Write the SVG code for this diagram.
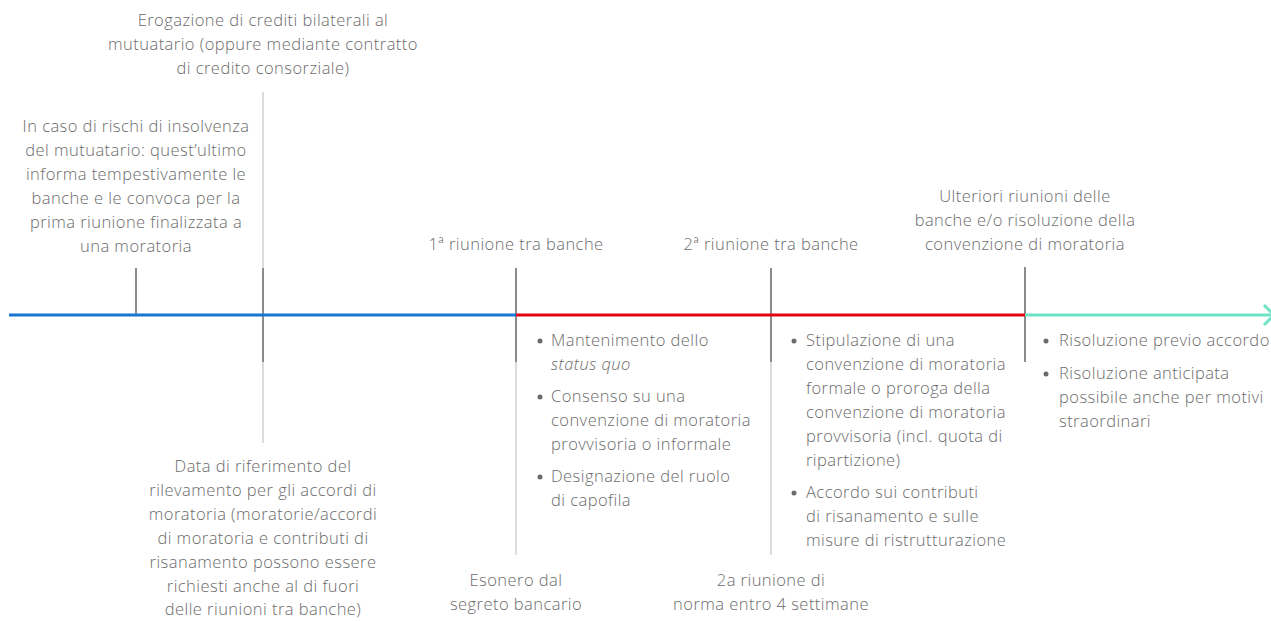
<svg xmlns="http://www.w3.org/2000/svg" width="1271" height="621" viewBox="0 0 1271 621">
<style>
text{font-family:"Open Sans","Noto Sans","Liberation Sans",sans-serif;font-size:16.5px;font-weight:300;letter-spacing:0.45px;fill:#6b6b6b}
.c{text-anchor:middle}
.dk{stroke:#8c8c8c;stroke-width:2;fill:none}
.lt{stroke:#dcdcdc;stroke-width:2;fill:none}
.dot{fill:#6b6b6b}
</style>
<rect width="1271" height="621" fill="#fff"/>
<g id="connectors">
<line x1="263" y1="92" x2="263" y2="268" class="lt"/>
<line x1="263" y1="362" x2="263" y2="443" class="lt"/>
<line x1="516" y1="362" x2="516" y2="555" class="lt"/>
<line x1="771" y1="362" x2="771" y2="555" class="lt"/>
<line x1="136" y1="268" x2="136" y2="315" class="dk"/>
<line x1="263" y1="268" x2="263" y2="362" class="dk"/>
<line x1="516" y1="268" x2="516" y2="362" class="dk"/>
<line x1="771" y1="268" x2="771" y2="362" class="dk"/>
<line x1="1025" y1="267" x2="1025" y2="362" class="dk"/>
<line x1="9" y1="315" x2="516" y2="315" stroke="#1676d2" stroke-width="3"/>
<line x1="516" y1="315" x2="1025" y2="315" stroke="#e30613" stroke-width="3"/>
<line x1="1025" y1="315" x2="1271" y2="315" stroke="#6ee2c4" stroke-width="3"/>
<polyline points="1264,305 1274,315 1264,325" fill="none" stroke="#6ee2c4" stroke-width="3"/>
</g>
<g id="n-top">
<text class="c" x="263" y="26">Erogazione di crediti bilaterali al</text>
<text class="c" x="263" y="50">mutuatario (oppure mediante contratto</text>
<text class="c" x="263" y="74">di credito consorziale)</text>
</g>
<g id="n-left">
<text class="c" x="136" y="132">In caso di rischi di insolvenza</text>
<text class="c" x="136" y="156">del mutuatario: quest’ultimo</text>
<text class="c" x="136" y="180">informa tempestivamente le</text>
<text class="c" x="136" y="204">banche e le convoca per la</text>
<text class="c" x="136" y="228">prima riunione finalizzata a</text>
<text class="c" x="136" y="252">una moratoria</text>
</g>
<g id="n-r1">
<text class="c" x="516" y="250">1ª riunione tra banche</text>
</g>
<g id="n-r2">
<text class="c" x="771" y="250">2ª riunione tra banche</text>
</g>
<g id="n-ult">
<text class="c" x="1025" y="202">Ulteriori riunioni delle</text>
<text class="c" x="1025" y="226">banche e/o risoluzione della</text>
<text class="c" x="1025" y="250">convenzione di moratoria</text>
</g>
<g id="n-data">
<text class="c" x="263" y="472">Data di riferimento del</text>
<text class="c" x="263" y="496">rilevamento per gli accordi di</text>
<text class="c" x="263" y="520">moratoria (moratorie/accordi</text>
<text class="c" x="263" y="544">di moratoria e contributi di</text>
<text class="c" x="263" y="568">risanamento possono essere</text>
<text class="c" x="263" y="592">richiesti anche al di fuori</text>
<text class="c" x="263" y="615">delle riunioni tra banche)</text>
</g>
<g id="n-b1">
<circle class="dot" cx="540" cy="341" r="2.5"/>
<text x="551" y="346">Mantenimento dello</text>
<text x="551" y="370" font-style="italic">status quo</text>
<circle class="dot" cx="540" cy="397" r="2.5"/>
<text x="551" y="402">Consenso su una</text>
<text x="551" y="426">convenzione di moratoria</text>
<text x="551" y="450">provvisoria o informale</text>
<circle class="dot" cx="540" cy="477" r="2.5"/>
<text x="551" y="482">Designazione del ruolo</text>
<text x="551" y="506">di capofila</text>
</g>
<g id="n-b2">
<circle class="dot" cx="794" cy="341" r="2.5"/>
<text x="806" y="346">Stipulazione di una</text>
<text x="806" y="370">convenzione di moratoria</text>
<text x="806" y="394">formale o proroga della</text>
<text x="806" y="418">convenzione di moratoria</text>
<text x="806" y="442">provvisoria (incl. quota di</text>
<text x="806" y="466">ripartizione)</text>
<circle class="dot" cx="794" cy="493" r="2.5"/>
<text x="806" y="498">Accordo sui contributi</text>
<text x="806" y="522">di risanamento e sulle</text>
<text x="806" y="546">misure di ristrutturazione</text>
</g>
<g id="n-b3">
<circle class="dot" cx="1046" cy="341" r="2.5"/>
<text x="1059" y="346">Risoluzione previo accordo</text>
<circle class="dot" cx="1046" cy="374" r="2.5"/>
<text x="1059" y="379">Risoluzione anticipata</text>
<text x="1059" y="403">possibile anche per motivi</text>
<text x="1059" y="427">straordinari</text>
</g>
<g id="n-eson">
<text class="c" x="516" y="586">Esonero dal</text>
<text class="c" x="516" y="610">segreto bancario</text>
</g>
<g id="n-2a">
<text class="c" x="771" y="586">2a riunione di</text>
<text class="c" x="771" y="610">norma entro 4 settimane</text>
</g>
</svg>
